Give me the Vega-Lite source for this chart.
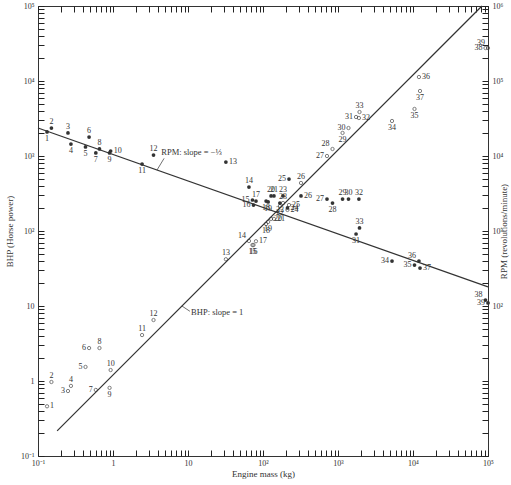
{
  "$schema": "https://vega.github.io/schema/vega-lite/v6.json",
  "width": 450,
  "height": 450,
  "autosize": {"type": "none"},
  "padding": {"left": 38, "top": 6, "right": 23, "bottom": 29},
  "background": "white",
  "config": {
    "view": {"stroke": "#333333", "strokeWidth": 1},
    "font": "Liberation Serif",
    "text": {"font": "Liberation Serif", "fontSize": 8, "color": "#333333"},
    "axis": {
      "grid": false,
      "domain": false,
      "zindex": 1,
      "tickColor": "#222222",
      "tickSize": 6,
      "offset": -6,
      "tickCount": 60,
      "labelColor": "#333333",
      "titleColor": "#333333",
      "labelFont": "Liberation Serif",
      "titleFont": "Liberation Serif",
      "labelFontSize": 8,
      "titleFontSize": 9,
      "titleFontWeight": "normal",
      "labelFlush": false,
      "labelOverlap": false
    }
  },
  "datasets": {
    "engines": [
      {"n": 1, "mass": 0.132, "bhp": 0.46, "rpm": 20900, "lb": "r", "lr": "b"},
      {"n": 2, "mass": 0.151, "bhp": 0.97, "rpm": 23600, "lb": "t", "lr": "t"},
      {"n": 3, "mass": 0.251, "bhp": 0.735, "rpm": 20300, "lb": "l", "lr": "t"},
      {"n": 4, "mass": 0.275, "bhp": 0.86, "rpm": 14450, "lb": "t", "lr": "b"},
      {"n": 5, "mass": 0.43, "bhp": 1.54, "rpm": 13200, "lb": "l", "lr": "b"},
      {"n": 6, "mass": 0.48, "bhp": 2.75, "rpm": 17900, "lb": "l", "lr": "t"},
      {"n": 7, "mass": 0.59, "bhp": 0.76, "rpm": 11000, "lb": "l", "lr": "b"},
      {"n": 8, "mass": 0.66, "bhp": 2.75, "rpm": 12400, "lb": "t", "lr": "t"},
      {"n": 9, "mass": 0.9, "bhp": 0.81, "rpm": 11000, "lb": "b", "lr": "b"},
      {"n": 10, "mass": 0.93, "bhp": 1.4, "rpm": 11660, "lb": "t", "lr": "r"},
      {"n": 11, "mass": 2.44, "bhp": 4.1, "rpm": 7820, "lb": "t", "lr": "b"},
      {"n": 12, "mass": 3.47, "bhp": 6.5, "rpm": 10300, "lb": "t", "lr": "t"},
      {"n": 13, "mass": 32, "bhp": 42, "rpm": 8300, "lb": "t", "lr": "r"},
      {"n": 14, "mass": 65, "bhp": 73.6, "rpm": 3860, "lb": "tl", "lr": "t"},
      {"n": 15, "mass": 72.4, "bhp": 65, "rpm": 2590, "lb": "b", "lr": "l"},
      {"n": 16, "mass": 74.7, "bhp": 65, "rpm": 2220, "lb": "b", "lr": "l"},
      {"n": 17, "mass": 80.6, "bhp": 73, "rpm": 2510, "lb": "r", "lr": "t"},
      {"n": 18, "mass": 110, "bhp": 124, "rpm": 2510, "lb": "b", "lr": "b"},
      {"n": 19, "mass": 117, "bhp": 132, "rpm": 2440, "lb": "b", "lr": "b"},
      {"n": 20, "mass": 128, "bhp": 145, "rpm": 2930, "lb": "r", "lr": "t"},
      {"n": 21, "mass": 140, "bhp": 145, "rpm": 2930, "lb": "r", "lr": "t"},
      {"n": 22, "mass": 168, "bhp": 215, "rpm": 2360, "lb": "b", "lr": "b"},
      {"n": 23, "mass": 185, "bhp": 236, "rpm": 2930, "lb": "t", "lr": "t"},
      {"n": 24, "mass": 212, "bhp": 191, "rpm": 2030, "lb": "r", "lr": "r"},
      {"n": 25, "mass": 222, "bhp": 222, "rpm": 4930, "lb": "r", "lr": "l"},
      {"n": 26, "mass": 321, "bhp": 437, "rpm": 2930, "lb": "t", "lr": "r"},
      {"n": 27, "mass": 713, "bhp": 1000, "rpm": 2670, "lb": "l", "lr": "l"},
      {"n": 28, "mass": 845, "bhp": 1240, "rpm": 2360, "lb": "tl", "lr": "b"},
      {"n": 29, "mass": 1150, "bhp": 2030, "rpm": 2670, "lb": "b", "lr": "t"},
      {"n": 30, "mass": 1380, "bhp": 2360, "rpm": 2670, "lb": "l", "lr": "t"},
      {"n": 31, "mass": 1740, "bhp": 3310, "rpm": 912, "lb": "l", "lr": "b"},
      {"n": 32, "mass": 1900, "bhp": 3210, "rpm": 2670, "lb": "r", "lr": "t"},
      {"n": 33, "mass": 1935, "bhp": 3860, "rpm": 1100, "lb": "t", "lr": "t"},
      {"n": 34, "mass": 5250, "bhp": 2930, "rpm": 398, "lb": "b", "lr": "l"},
      {"n": 35, "mass": 10470, "bhp": 4240, "rpm": 352, "lb": "b", "lr": "l"},
      {"n": 36, "mass": 12000, "bhp": 11300, "rpm": 398, "lb": "r", "lr": "tl"},
      {"n": 37, "mass": 12400, "bhp": 7360, "rpm": 321, "lb": "b", "lr": "r"},
      {"n": 38, "mass": 92600, "bhp": 27500, "rpm": 120, "lb": "l", "lr": "tl"},
      {"n": 39, "mass": 100000, "bhp": 27500, "rpm": 110, "lb": "tl", "lr": "l"}
    ],
    "bhpLine": [{"mass": 0.18, "bhp": 0.216}, {"mass": 83000, "bhp": 100000}],
    "rpmLine": [{"mass": 0.1, "rpm": 23600}, {"mass": 100000, "rpm": 180}],
    "bhpNote": [{"mass": 11, "bhp": 8.3, "t": "BHP: slope = 1"}],
    "bhpLeader": [{"mass": 8.3, "bhp": 10, "mass2": 10.6, "bhp2": 8.5}],
    "rpmNote": [{"mass": 4.4, "rpm": 11300, "t": "RPM: slope = −⅓"}],
    "rpmLeader": [{"mass": 3.86, "rpm": 6500, "mass2": 4.8, "rpm2": 9300}]
  },
  "layer": [
    {
      "encoding": {
        "x": {
          "field": "mass",
          "type": "quantitative",
          "scale": {"type": "log", "domain": [0.1, 100000]},
          "axis": {
            "orient": "bottom",
            "title": "Engine mass (kg)",
            "titlePadding": 2,
            "labelPadding": 3,
            "labelExpr": "abs(log(datum.value)/LN10 - round(log(datum.value)/LN10)) > 0.001 ? '' : (round(log(datum.value)/LN10) == 0 ? '1' : round(log(datum.value)/LN10) == 1 ? '10' : '10' + ['⁻¹','⁰','¹','²','³','⁴','⁵','⁶'][round(log(datum.value)/LN10)+1])"
          }
        },
        "y": {
          "field": "bhp",
          "type": "quantitative",
          "scale": {"type": "log", "domain": [0.1, 100000]},
          "axis": {
            "orient": "left",
            "title": "BHP (Horse power)",
            "titlePadding": 6,
            "labelPadding": 4,
            "labelExpr": "abs(log(datum.value)/LN10 - round(log(datum.value)/LN10)) > 0.001 ? '' : (round(log(datum.value)/LN10) == 0 ? '1' : round(log(datum.value)/LN10) == 1 ? '10' : '10' + ['⁻¹','⁰','¹','²','³','⁴','⁵','⁶'][round(log(datum.value)/LN10)+1])"
          }
        }
      },
      "layer": [
        {"data": {"name": "bhpLine"}, "mark": {"type": "line", "color": "#333333", "strokeWidth": 1.2}},
        {"data": {"name": "engines"}, "mark": {"type": "point", "shape": "circle", "filled": false, "color": "#333333", "size": 11, "strokeWidth": 0.9}},
        {"data": {"name": "engines"}, "transform": [{"filter": "datum.lb == 't'"}], "mark": {"type": "text", "color": "#333333", "dy": -6, "baseline": "middle"}, "encoding": {"text": {"field": "n", "type": "nominal"}}},
        {"data": {"name": "engines"}, "transform": [{"filter": "datum.lb == 'b'"}], "mark": {"type": "text", "color": "#333333", "dy": 7, "baseline": "middle"}, "encoding": {"text": {"field": "n", "type": "nominal"}}},
        {"data": {"name": "engines"}, "transform": [{"filter": "datum.lb == 'l'"}], "mark": {"type": "text", "color": "#333333", "dx": -3, "align": "right", "baseline": "middle"}, "encoding": {"text": {"field": "n", "type": "nominal"}}},
        {"data": {"name": "engines"}, "transform": [{"filter": "datum.lb == 'r'"}], "mark": {"type": "text", "color": "#333333", "dx": 3, "align": "left", "baseline": "middle"}, "encoding": {"text": {"field": "n", "type": "nominal"}}},
        {"data": {"name": "engines"}, "transform": [{"filter": "datum.lb == 'tl'"}], "mark": {"type": "text", "color": "#333333", "dx": -3, "dy": -5, "align": "right", "baseline": "middle"}, "encoding": {"text": {"field": "n", "type": "nominal"}}},
        {"data": {"name": "bhpNote"}, "mark": {"type": "text", "color": "#333333", "align": "left", "baseline": "middle", "fontSize": 8.5}, "encoding": {"text": {"field": "t", "type": "nominal"}}},
        {"data": {"name": "bhpLeader"}, "mark": {"type": "rule", "color": "#333333", "strokeWidth": 0.7}, "encoding": {"x2": {"field": "mass2"}, "y2": {"field": "bhp2"}}}
      ]
    },
    {
      "encoding": {
        "x": {
          "field": "mass",
          "type": "quantitative",
          "scale": {"type": "log", "domain": [0.1, 100000]},
          "axis": {
            "orient": "top",
            "title": null,
            "labels": false
          }
        },
        "y": {
          "field": "rpm",
          "type": "quantitative",
          "scale": {"type": "log", "domain": [1, 1000000]},
          "axis": {
            "orient": "right",
            "title": "RPM (revolutions/minute)",
            "titleAngle": -90,
            "titleBaseline": "bottom",
            "titlePadding": 6,
            "labelPadding": 4,
            "labelExpr": "abs(log(datum.value)/LN10 - round(log(datum.value)/LN10)) > 0.001 || datum.value < 50 ? '' : '10' + ['⁰','¹','²','³','⁴','⁵','⁶'][round(log(datum.value)/LN10)]"
          }
        }
      },
      "layer": [
        {"data": {"name": "rpmLine"}, "mark": {"type": "line", "color": "#333333", "strokeWidth": 1.2}},
        {"data": {"name": "engines"}, "mark": {"type": "circle", "color": "#333333", "size": 14, "opacity": 1}},
        {"data": {"name": "engines"}, "transform": [{"filter": "datum.lr == 't'"}], "mark": {"type": "text", "color": "#333333", "dy": -6, "baseline": "middle"}, "encoding": {"text": {"field": "n", "type": "nominal"}}},
        {"data": {"name": "engines"}, "transform": [{"filter": "datum.lr == 'b'"}], "mark": {"type": "text", "color": "#333333", "dy": 7, "baseline": "middle"}, "encoding": {"text": {"field": "n", "type": "nominal"}}},
        {"data": {"name": "engines"}, "transform": [{"filter": "datum.lr == 'l'"}], "mark": {"type": "text", "color": "#333333", "dx": -3, "align": "right", "baseline": "middle"}, "encoding": {"text": {"field": "n", "type": "nominal"}}},
        {"data": {"name": "engines"}, "transform": [{"filter": "datum.lr == 'r'"}], "mark": {"type": "text", "color": "#333333", "dx": 3, "align": "left", "baseline": "middle"}, "encoding": {"text": {"field": "n", "type": "nominal"}}},
        {"data": {"name": "engines"}, "transform": [{"filter": "datum.lr == 'tl'"}], "mark": {"type": "text", "color": "#333333", "dx": -3, "dy": -5, "align": "right", "baseline": "middle"}, "encoding": {"text": {"field": "n", "type": "nominal"}}},
        {"data": {"name": "rpmNote"}, "mark": {"type": "text", "color": "#333333", "align": "left", "baseline": "middle", "fontSize": 8.5}, "encoding": {"text": {"field": "t", "type": "nominal"}}},
        {"data": {"name": "rpmLeader"}, "mark": {"type": "rule", "color": "#333333", "strokeWidth": 0.7}, "encoding": {"x2": {"field": "mass2"}, "y2": {"field": "rpm2"}}}
      ]
    }
  ],
  "resolve": {"scale": {"y": "independent"}, "axis": {"x": "independent", "y": "independent"}}
}
